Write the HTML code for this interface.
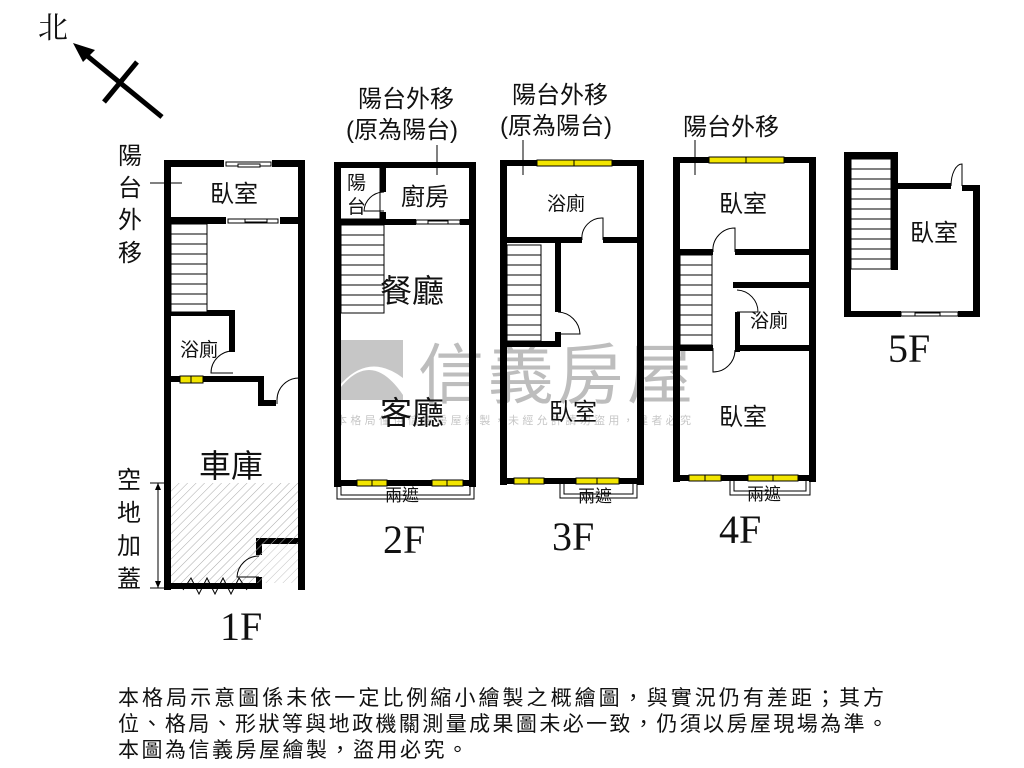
<!DOCTYPE html>
<html><head><meta charset="utf-8"><style>
html,body{margin:0;padding:0;background:#fff;}
svg{display:block;}
text{font-family:"Liberation Sans","Noto Sans CJK TC",sans-serif;fill:#111;}
.s{font-family:"Liberation Serif","Noto Serif CJK SC",serif;}
</style></head><body>
<svg width="1024" height="768" viewBox="0 0 1024 768" xmlns="http://www.w3.org/2000/svg">
<defs>
<pattern id="h" width="6" height="6" patternUnits="userSpaceOnUse" patternTransform="rotate(45)">
<line x1="0" y1="0" x2="0" y2="6" stroke="#aaa" stroke-width="1"/>
</pattern>
</defs>
<rect width="1024" height="768" fill="#fff"/>

<!-- north -->
<text x="38" y="38" font-size="30" class="s">北</text>
<line x1="80" y1="50" x2="162" y2="117" stroke="#000" stroke-width="5"/>
<polygon points="73,43 95,50 83,62" fill="#000"/>
<line x1="137" y1="62" x2="104" y2="102" stroke="#000" stroke-width="5"/>

<!-- watermark -->
<g opacity="0.55">
<rect x="335" y="340" width="68" height="60" fill="#999"/>
<path d="M335,395 Q369,345 403,395 L403,378 Q369,352 340,385 Z" fill="#fff"/>
<text x="418" y="398" font-size="66" fill="#888" style="fill:#888" textLength="275">信義房屋</text>
<text x="336" y="424" font-size="11" style="fill:#999" textLength="355">本格局僅供信義房屋繪製，未經允許請勿盜用，違者必究</text>
</g>

<g fill="#000">
<!-- ========== 1F ========== -->
<rect x="164" y="160" width="7" height="430"/>
<rect x="298" y="160" width="7" height="430"/>
<rect x="164" y="160" width="60" height="7"/>
<rect x="272" y="160" width="33" height="7"/>
<rect x="164" y="217" width="62" height="7"/>
<rect x="280" y="217" width="25" height="7"/>
<rect x="167" y="310" width="68" height="6"/>
<rect x="229" y="310" width="6" height="42"/>
<rect x="167" y="376" width="97" height="6"/>
<rect x="258" y="376" width="6" height="30"/>
<rect x="258" y="400" width="18" height="6"/>
<rect x="258" y="538" width="47" height="6"/>
<rect x="256" y="538" width="6" height="17"/>
<rect x="256" y="577" width="6" height="12"/>
<rect x="164" y="583" width="98" height="6"/>
<!-- 2F -->
<rect x="334" y="162" width="7" height="325"/>
<rect x="469" y="162" width="7" height="325"/>
<rect x="334" y="162" width="142" height="6"/>
<rect x="380" y="162" width="6" height="30"/>
<rect x="334" y="219" width="50" height="6"/>
<rect x="380" y="212" width="6" height="10"/>
<rect x="334" y="219" width="50" height="6"/>
<rect x="384" y="219" width="32" height="6"/>
<rect x="460" y="219" width="16" height="6"/>
<rect x="334" y="480" width="142" height="6"/>
<!-- 3F -->
<rect x="500" y="160" width="7" height="325"/>
<rect x="637" y="160" width="7" height="325"/>
<rect x="500" y="160" width="144" height="6"/>
<rect x="500" y="237" width="82" height="6"/>
<rect x="603" y="237" width="41" height="6"/>
<rect x="555" y="240" width="6" height="72"/>
<rect x="555" y="332" width="6" height="15"/>
<rect x="500" y="341" width="61" height="6"/>
<rect x="500" y="478" width="144" height="6"/>
<!-- 4F -->
<rect x="673" y="157" width="7" height="325"/>
<rect x="809" y="157" width="7" height="325"/>
<rect x="673" y="157" width="143" height="6"/>
<rect x="673" y="249" width="40" height="6"/>
<rect x="735" y="249" width="81" height="6"/>
<rect x="733" y="282" width="83" height="6"/>
<rect x="733" y="282" width="6" height="6"/>
<rect x="735" y="312" width="5" height="40"/>
<rect x="673" y="345" width="40" height="6"/>
<rect x="735" y="345" width="81" height="6"/>
<rect x="673" y="475" width="143" height="6"/>
<!-- 5F -->
<rect x="844" y="152" width="7" height="165"/>
<rect x="844" y="152" width="53" height="7"/>
<rect x="891" y="152" width="7" height="118"/>
<rect x="891" y="183" width="60" height="6"/>
<rect x="973" y="185" width="7" height="132"/>
<rect x="962" y="185" width="18" height="6"/>
<rect x="844" y="311" width="57" height="6"/>
<rect x="958" y="311" width="22" height="6"/>
</g>

<!-- hatch 1F -->
<rect x="171" y="483" width="127" height="100" fill="url(#h)"/>
<rect x="262" y="544" width="36" height="39" fill="#fff" opacity="0.3"/>

<!-- stairs -->
<g stroke="#000" stroke-width="1" fill="#fff">
<rect x="171" y="224" width="36" height="88"/>
<rect x="341" y="225" width="43" height="88"/>
<rect x="507" y="245" width="34" height="96"/>
<rect x="680" y="255" width="32" height="90"/>
<rect x="851" y="159" width="40" height="110"/>
</g>
<g stroke="#000" stroke-width="1">
<path d="M171,234h36M171,244h36M171,254h36M171,264h36M171,274h36M171,284h36M171,294h36M171,304h36"/>
<path d="M341,235h43M341,245h43M341,255h43M341,265h43M341,275h43M341,285h43M341,295h43M341,305h43"/>
<path d="M507,255h34M507,265h34M507,275h34M507,285h34M507,295h34M507,305h34M507,315h34M507,325h34M507,335h34"/>
<path d="M680,265h32M680,275h32M680,285h32M680,295h32M680,305h32M680,315h32M680,325h32M680,335h32"/>
<path d="M851,169h40M851,179h40M851,189h40M851,199h40M851,209h40M851,219h40M851,229h40M851,239h40M851,249h40M851,259h40"/>
</g>

<!-- sliding windows/doors (thin) -->
<g stroke="#000" stroke-width="1" fill="#fff">
<rect x="226" y="162" width="45" height="4"/><rect x="238" y="164" width="22" height="3"/>
<rect x="228" y="219" width="50" height="4"/><rect x="245" y="219" width="22" height="3"/>
<rect x="416" y="220" width="44" height="4"/><rect x="428" y="221" width="20" height="3"/>
<rect x="901" y="312" width="57" height="4"/><rect x="915" y="313" width="25" height="3"/>
<rect x="336" y="164" width="44" height="55" fill="none"/>
<!-- awnings -->
<polyline points="337,486 337,499 474,499 474,486" fill="none"/>
<polyline points="341,486 341,495 470,495 470,486" fill="none"/>
<polyline points="560,484 560,498 637,498 637,484" fill="none"/>
<polyline points="564,484 564,494 633,494 633,484" fill="none"/>
<polyline points="730,481 730,495 810,495 810,481" fill="none"/>
<polyline points="734,481 734,491 806,491 806,481" fill="none"/>
</g>

<!-- yellow windows -->
<g fill="#f2e500" stroke="#000" stroke-width="1">
<rect x="180" y="376" width="23" height="7"/>
<rect x="357" y="480" width="30" height="6"/>
<rect x="432" y="480" width="31" height="6"/>
<rect x="537" y="160" width="75" height="6"/>
<rect x="514" y="478" width="30" height="6"/>
<rect x="576" y="478" width="43" height="6"/>
<rect x="709" y="157" width="75" height="6"/>
<rect x="689" y="475" width="32" height="6"/>
<rect x="748" y="475" width="50" height="6"/>
</g>
<g stroke="#000" stroke-width="1">
<path d="M191,376v7M372,480v6M447,480v6M574,160v6M529,478v6M597,478v6M746,157v6M705,475v6M773,475v6"/>
</g>

<!-- door arcs -->
<g stroke="#000" stroke-width="1" fill="none">
<path d="M233,351 A22,22 0 0,0 211,373 H233"/>
<path d="M299,378 A22,22 0 0,0 277,400 V404"/>
<path d="M259,556 A22,22 0 0,0 237,577 H259"/>
<path d="M384,192 A20,20 0 0,0 364,211 H384"/>
<path d="M582,240 A20,20 0 0,1 603,218 V240"/>
<path d="M558,312 A23,23 0 0,1 580,334 H558"/>
<path d="M713,252 A22,22 0 0,1 735,228 V252"/>
<path d="M737,290 A22,22 0 0,1 758,312 H737"/>
<path d="M713,348 V372 A22,22 0 0,0 735,350"/>
<path d="M951,186 A11,22 0 0,1 962,164 V186"/>
<path d="M183,590 l8,-12 l8,16 l8,-16 l8,16 l8,-16 l8,16 l8,-16 l8,12"/>
</g>

<!-- leader lines -->
<g stroke="#000" stroke-width="1">
<line x1="150" y1="183" x2="182" y2="183"/>
<line x1="437" y1="145" x2="437" y2="175"/>
<line x1="523" y1="140" x2="523" y2="175"/>
<line x1="695" y1="140" x2="695" y2="175"/>
<line x1="150" y1="483" x2="170" y2="483"/>
<line x1="150" y1="588" x2="170" y2="588"/>
<line x1="158" y1="483" x2="158" y2="588"/>
</g>
<g fill="#000"><polygon points="158,483 155,490 161,490"/><polygon points="158,588 155,581 161,581"/></g>

<!-- labels -->
<g font-size="24">
<text x="118" y="164">陽</text><text x="118" y="196">台</text><text x="118" y="228">外</text><text x="118" y="261">移</text>
<text x="117" y="488">空</text><text x="117" y="521">地</text><text x="117" y="554">加</text><text x="117" y="587">蓋</text>
<text x="358" y="107">陽台外移</text>
<text x="346" y="138">(原為陽台)</text>
<text x="512" y="103">陽台外移</text>
<text x="500" y="134">(原為陽台)</text>
<text x="683" y="135">陽台外移</text>
<text x="210" y="202">臥室</text>
<text x="401" y="205">廚房</text>
<text x="719" y="212">臥室</text>
<text x="910" y="241">臥室</text>
<text x="719" y="425">臥室</text>
<text x="549" y="420">臥室</text>
</g>
<g font-size="19">
<text x="347" y="189">陽</text><text x="347" y="213">台</text>
<text x="180" y="356">浴廁</text>
<text x="547" y="210">浴廁</text>
<text x="750" y="327">浴廁</text>
</g>
<g font-size="32">
<text x="380" y="302">餐廳</text>
<text x="380" y="424">客廳</text>
<text x="199" y="477">車庫</text>
</g>
<g font-size="17">
<text x="385" y="501">兩遮</text>
<text x="578" y="502">兩遮</text>
<text x="747" y="500">兩遮</text>
</g>
<g font-size="40" class="s">
<text x="220" y="640" class="s">1F</text>
<text x="383" y="553" class="s">2F</text>
<text x="552" y="550" class="s">3F</text>
<text x="719" y="543" class="s">4F</text>
<text x="888" y="362" class="s">5F</text>
</g>
<g font-size="21">
<text x="118" y="705" textLength="766">本格局示意圖係未依一定比例縮小繪製之概繪圖，與實況仍有差距；其方</text>
<text x="118" y="731" textLength="770">位、格局、形狀等與地政機關測量成果圖未必一致，仍須以房屋現場為準。</text>
<text x="118" y="757" textLength="350">本圖為信義房屋繪製，盜用必究。</text>
</g>
</svg>
</body></html>
